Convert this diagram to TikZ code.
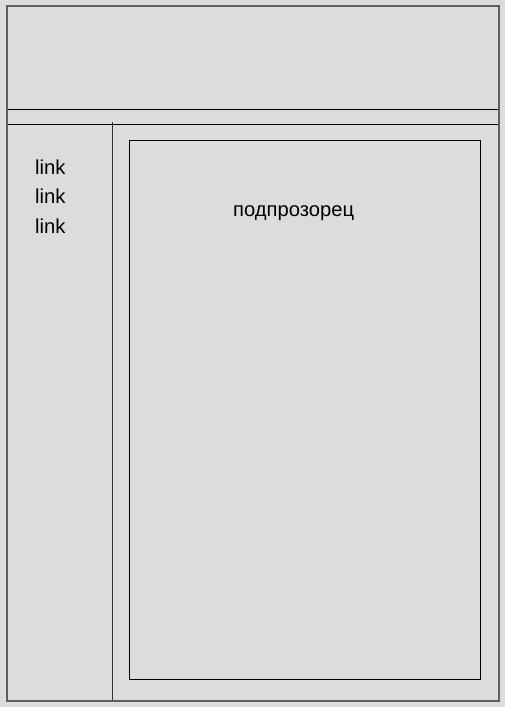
\documentclass[tikz,border=0pt]{standalone}
\usepackage{fontspec}
\setmainfont{Liberation Sans}
\usepackage{xcolor}
\usetikzlibrary{positioning}
\definecolor{pagebg}{HTML}{DCDCDC}
\definecolor{framegray}{HTML}{5E5E5E}

\begin{document}
\begin{tikzpicture}[
x=1pt,y=-1pt,
Frame/.style={draw=framegray,line width=1.5pt},
Lines/.style={draw=black,line width=1pt},
Words/.style={font=\fontsize{20.2}{24}\selectfont,inner sep=0pt,anchor=base west}
]
% page background
\fill[pagebg] (0,0) rectangle (505,707);
\useasboundingbox (0,0) rectangle (505,707);

% corners of the layout
\coordinate (TL) at (7,6);
\coordinate (BR) at (499,701);
\coordinate (BandTop) at (7,109);
\coordinate (BandBot) at (499,124);
\coordinate (SideTop) at (112,122);
\coordinate (SideBot) at (112,701);
\coordinate (BoxTL) at (129,140);
\coordinate (BoxBR) at (480,679);

% header band
\draw[Lines] (BandTop) rectangle (BandBot);

% sidebar
\draw[Lines, draw=black!80] (SideTop)--(SideBot);

% content box
\draw[Lines] (BoxTL) rectangle (BoxBR);

% outer frame
\draw[Frame] (TL) rectangle (BR);

% links
\foreach \i/\y in {1/174,2/203,3/233}
  \node[Words] (link\i) at (35,\y) {link};

\node[Words] (title) at (233,216) {подпрозорец};

\end{tikzpicture}
\end{document}
